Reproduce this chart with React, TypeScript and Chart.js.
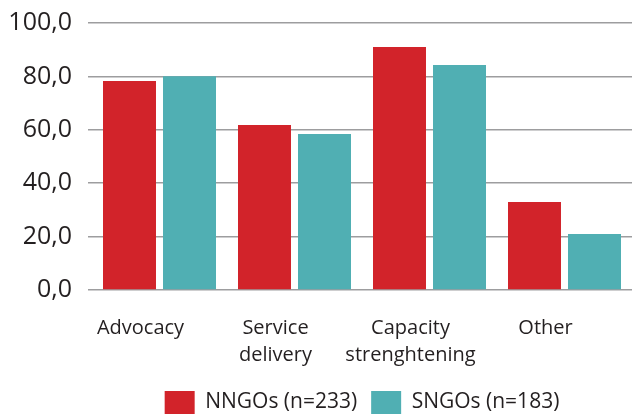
import React, { useEffect, useRef } from "react";
import { Chart, registerables } from "chart.js";

Chart.register(...registerables);

const categories: (string | string[])[] = ["Advocacy", ["Service", "delivery"], ["Capacity", "strenghtening"], "Other"];
const nngoValues = [78.3, 61.8, 91.0, 33.0];
const sngoValues = [80.1, 58.4, 84.3, 21.0];
const seriesLabels = ["NNGOs (n=233)", "SNGOs (n=183)"];
const seriesColors = ["#d2232a", "#50afb3"];

export default function App() {
  const ref = useRef<HTMLCanvasElement | null>(null);
  useEffect(() => {
    if (!ref.current) return;
    const font = "'Open Sans', sans-serif";
    const chart = new Chart(ref.current, {
      type: "bar",
      data: {
        labels: categories,
        datasets: [
          { label: seriesLabels[0], data: nngoValues, backgroundColor: seriesColors[0], categoryPercentage: 0.889, barPercentage: 0.883 },
          { label: seriesLabels[1], data: sngoValues, backgroundColor: seriesColors[1], categoryPercentage: 0.889, barPercentage: 0.883 },
        ],
      },
      options: {
        animation: false,
        responsive: true,
        maintainAspectRatio: false,
        layout: { padding: { top: 23, right: 0, left: 0, bottom: -5 } },
        plugins: {
          tooltip: { enabled: false },
          legend: {
            position: "bottom",
            fullSize: false,
            labels: {
              boxWidth: 30,
              boxHeight: 23,
              padding: 14,
              color: "#231f20",
              font: { family: font, size: 21 },
            },
          },
        },
        scales: {
          x: {
            grid: { display: false },
            border: { display: false },
            ticks: {
              color: "#231f20",
              font: { family: font, size: 20, lineHeight: 1.35 },
              maxRotation: 0,
              autoSkip: false,
              labelOffset: -19,
              padding: 17,
            },
            afterFit: (s: any) => {
              s.height = 87;
              s.paddingLeft = 0;
              s.paddingRight = 0;
            },
          },
          y: {
            min: 0,
            max: 100,
            border: { display: false },
            grid: { color: "#9d9d9f", lineWidth: 1.5, tickLength: 4, tickColor: "#9d9d9f" },
            ticks: {
              stepSize: 20,
              color: "#231f20",
              padding: 16,
              font: { family: font, size: 25 },
              callback: (v: any) => Number(v).toFixed(1).replace(".", ","),
            },
            afterFit: (s: any) => {
              s.width = 92;
              s.paddingTop = 0;
              s.paddingBottom = 0;
            },
          },
        },
      },
    });
    return () => chart.destroy();
  }, []);
  return (
    <div style={{ position: "absolute", left: 0, top: 0, width: 632, height: 419, background: "#fff" }}>
      <canvas ref={ref} />
    </div>
  );
}
